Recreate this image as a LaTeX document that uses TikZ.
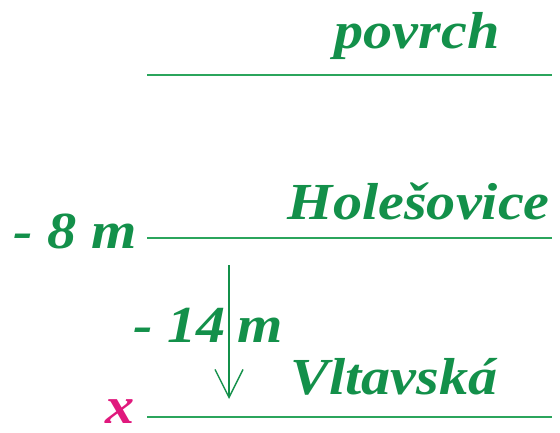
\documentclass[tikz,border=0pt]{standalone}
\usepackage{fontspec}
\setmainfont{Liberation Serif}
\newfontfamily\stationfont[FakeStretch=1.12]{Liberation Serif}
\usetikzlibrary{arrows.meta}
\definecolor{tunnelgreen}{HTML}{13904A}
\definecolor{levelline}{HTML}{2BA55C}
\definecolor{depthpink}{HTML}{E0197D}

\begin{document}
\begin{tikzpicture}[x=1pt, y=-1pt,
    lbl/.style={font=\stationfont\fontsize{52}{52}\selectfont\bfseries\itshape, text=tunnelgreen, inner sep=0},
    level/.style={levelline, line width=2.2pt}]
\useasboundingbox (0,0) rectangle (560,433);

% ---- levels
\coordinate (s0) at (147,75);  \coordinate (s1) at (552,75);
\coordinate (h0) at (147,238); \coordinate (h1) at (552,238);
\coordinate (v0) at (147,417); \coordinate (v1) at (552,417);
\draw[level] (s0) -- (s1);
\draw[level] (h0) -- (h1);
\draw[level] (v0) -- (v1);

% ---- names
\node[lbl, anchor=base] (povrch) at (417,49) {povrch};
\node[lbl, anchor=base east] (holes) at (550,219) {Holešovice};
\node[lbl, anchor=base west] (vltav) at (290,394) {Vltavská};

% ---- depths
\node[lbl, anchor=base east] (d8) at (137,248) {- 8 m};
\node[lbl, anchor=base west] (d14) at (133,342) {- 14\hspace{12pt}m};
\node[lbl, anchor=base east, text=depthpink] (xdepth) at (135,423) {x};

% ---- descent
\coordinate (a0) at (229,265);
\coordinate (a1) at (229,399);
\draw[tunnelgreen, line width=1.4pt, -{Straight Barb[length=28pt, width=28pt, line width=1.4pt]}] (a0) -- (a1);

\end{tikzpicture}
\end{document}
